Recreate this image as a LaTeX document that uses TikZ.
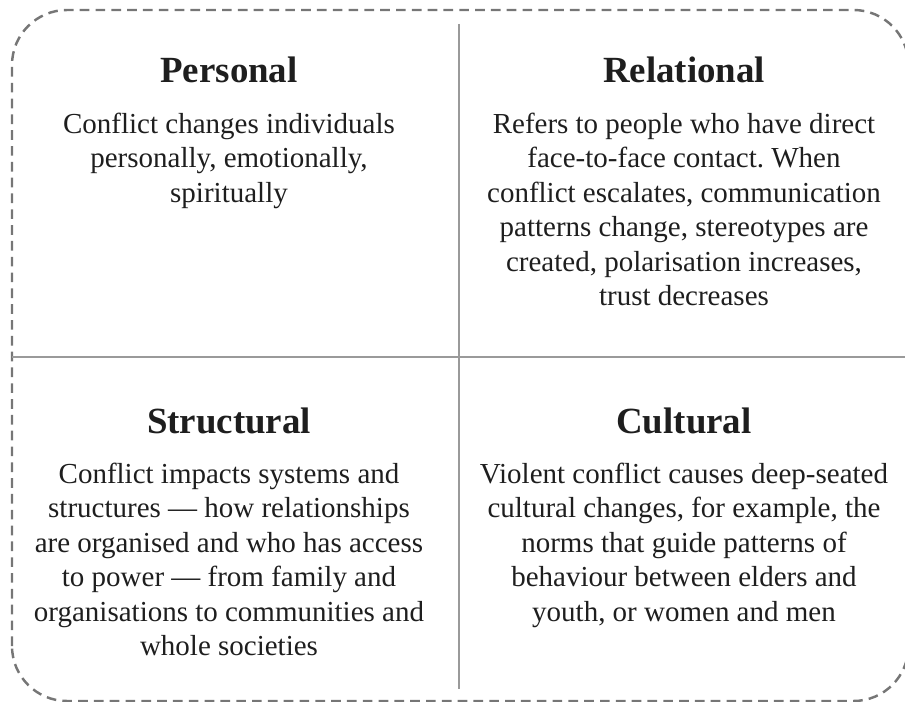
\documentclass[tikz,border=0pt]{standalone}
\usepackage{fontspec}
\setmainfont{Liberation Serif}
\usepackage{tikz}
\usetikzlibrary{positioning}
\definecolor{framegray}{HTML}{767676}
\definecolor{rulegray}{HTML}{9a9a9a}
\definecolor{inkgray}{HTML}{1e1e1e}
\frenchspacing

\begin{document}
\begin{tikzpicture}[
    heading/.style={anchor=base, inner sep=0pt, text=inkgray, font=\fontsize{21}{25}\selectfont\bfseries},
    blurb/.style={anchor=north, inner sep=0pt, align=center, text=inkgray, font=\fontsize{16.5}{19.6}\selectfont}]
  \useasboundingbox (0,0) rectangle (18.1,14.02);

  % Dashed outer frame (runs a little past the right and bottom edge)
  \draw[framegray, line width=1.4pt, dash pattern=on 5.5pt off 3.5pt, rounded corners=1.1cm]
    (0.24,0.0) rectangle (18.17,13.82);

  % Quadrant dividers
  \coordinate (vtop) at (9.18,13.54);
  \coordinate (vbot) at (9.18,0.24);
  \coordinate (hleft) at (0.24,6.88);
  \coordinate (hright) at (18.1,6.88);
  \draw[rulegray, line width=1.1pt] (vtop) -- (vbot);
  \draw[rulegray, line width=1.1pt] (hleft) -- (hright);

  % Top left: Personal
  \node[heading] (personal) at (4.58,12.36) {Personal};
  \node[blurb] (personaltxt) at (4.58,11.77) {Conflict changes individuals\\
    personally, emotionally,\\ spiritually};

  % Top right: Relational
  \node[heading] (relational) at (13.68,12.36) {Relational};
  \node[blurb] (relationaltxt) at (13.68,11.77) {Refers to people who have direct\\
    face-to-face contact. When\\ conflict escalates, communication\\
    patterns change, stereotypes are\\ created, polarisation increases,\\ trust decreases};

  % Bottom left: Structural
  \node[heading] (structural) at (4.58,5.36) {Structural};
  \node[blurb] (structuraltxt) at (4.58,4.77) {Conflict impacts systems and\\
    structures --- how relationships\\ are organised and who has access\\
    to power --- from family and\\ organisations to communities and\\ whole societies};

  % Bottom right: Cultural
  \node[heading] (cultural) at (13.68,5.36) {Cultural};
  \node[blurb] (culturaltxt) at (13.68,4.77) {Violent conflict causes deep-seated\\
    cultural changes, for example, the\\ norms that guide patterns of\\
    behaviour between elders and\\ youth, or women and men};
\end{tikzpicture}
\end{document}
